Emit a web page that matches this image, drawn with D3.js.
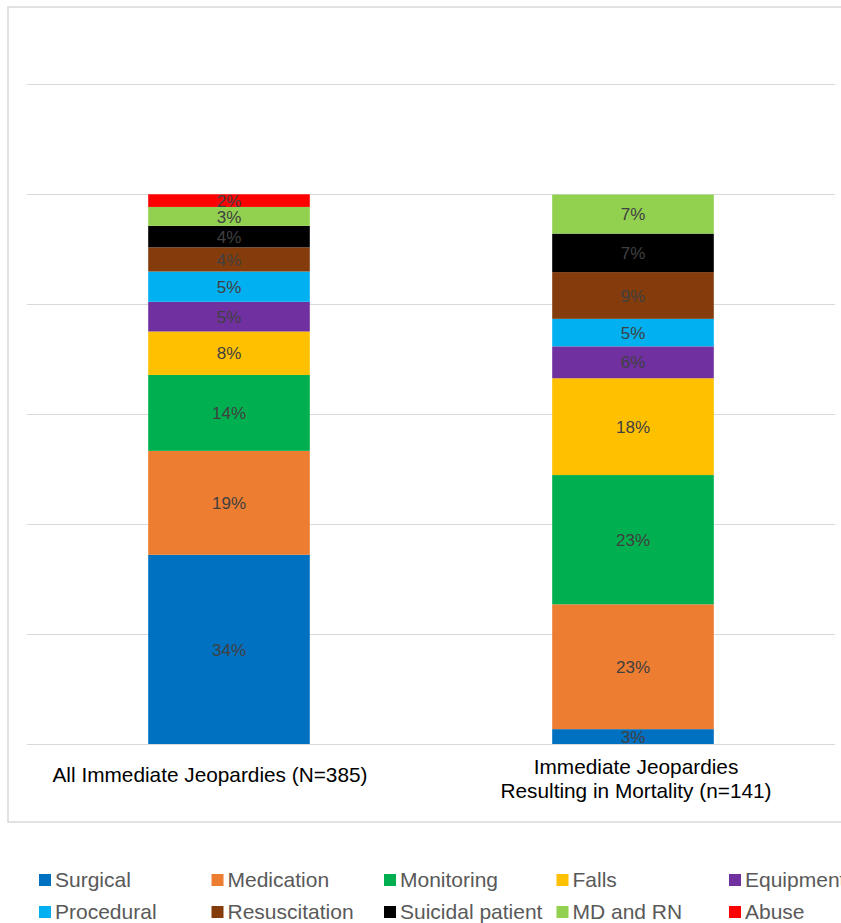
<!DOCTYPE html>
<html>
<head>
<meta charset="utf-8">
<script src="https://cdn.jsdelivr.net/npm/d3@7"></script>
<style>
  body { margin: 0; background: #fff; }
  svg { display: block; font-family: "Liberation Sans", Arial, sans-serif; }
  .grid-line .domain { display: none; }
  .grid-line .tick line { stroke: #d9d9d9; stroke-width: 1.2; }
  .grid-line .tick text { display: none; }
</style>
</head>
<body>
<svg id="chart" width="841" height="923"></svg>
<script>
// categories (x axis), each one split into its printed lines
const categories = ['all', 'mortality'];
const categoryLines = [
    ['All Immediate Jeopardies (N=385)'],
    ['Immediate Jeopardies', 'Resulting in Mortality (n=141)']
];

// series, bottom to top
const seriesNames = ['Surgical', 'Medication', 'Monitoring', 'Falls', 'Equipment',
    'Procedural', 'Resuscitation', 'Suicidal patient', 'MD and RN', 'Abuse'];
const seriesColors = ['#0070C0', '#ED7D31', '#00B050', '#FFC000', '#7030A0',
    '#00B0F0', '#843C0C', '#000000', '#92D050', '#FF0000'];

// percent share per series
const allValues = [34.4, 18.9, 13.8, 7.9, 5.4, 5.5, 4.4, 3.9, 3.45, 2.3];
const mortalityValues = [2.7, 22.7, 23.5, 17.6, 5.8, 5.0, 8.5, 7.0, 7.1, 0];

// printed data labels
const allLabels = ['34%', '19%', '14%', '8%', '5%', '5%', '4%', '4%', '3%', '2%'];
const mortalityLabels = ['3%', '23%', '23%', '18%', '6%', '5%', '9%', '7%', '7%', ''];

// y ticks (gridlines)
const yTicks = [0, 20, 40, 60, 80, 100, 120];

const svg = d3.select('#chart');

// outer chart border
svg.append('rect')
    .attr('x', 8).attr('y', 7)
    .attr('width', 845).attr('height', 815)
    .attr('fill', 'none')
    .attr('stroke', '#d9d9d9')
    .attr('stroke-width', 1.5);

const margin = { top: 84, right: 6, bottom: 179, left: 27 };
const width = +svg.attr('width') - margin.left - margin.right;
const height = +svg.attr('height') - margin.top - margin.bottom;
const g = svg.append('g').attr('transform', `translate(${margin.left},${margin.top})`);

const x = d3.scaleBand().range([0, width]).domain(categories).padding(0);
const y = d3.scaleLinear().range([height, 0]).domain([0, 120]);
const barWidth = x.bandwidth() * 0.4;

// gridlines
g.append('g')
    .attr('class', 'grid-line')
    .call(d3.axisLeft(y).tickValues(yTicks).tickSize(-width));

// build stacked table
const table = categories.map((c, i) => {
    const row = { cat: c };
    const vals = i === 0 ? allValues : mortalityValues;
    seriesNames.forEach((s, j) => { row[s] = vals[j]; });
    return row;
});
const labelsFor = { all: allLabels, mortality: mortalityLabels };
const stack = d3.stack().keys(seriesNames)(table);
const color = d3.scaleOrdinal().domain(seriesNames).range(seriesColors);

const layers = g.selectAll('.layer')
    .data(stack)
    .enter().append('g')
    .attr('class', 'layer')
    .attr('fill', d => color(d.key));

layers.selectAll('rect')
    .data(d => d.map(p => Object.assign(p, { key: d.key, idx: d.index })))
    .enter().append('rect')
    .filter(d => d[1] - d[0] > 0)
    .attr('x', d => x(d.data.cat) + (x.bandwidth() - barWidth) / 2)
    .attr('y', d => y(d[1]))
    .attr('width', barWidth)
    .attr('height', d => y(d[0]) - y(d[1]));

// data labels
layers.selectAll('text')
    .data(d => d)
    .enter().append('text')
    .filter(d => d[1] - d[0] > 0)
    .attr('x', d => x(d.data.cat) + x.bandwidth() / 2)
    .attr('y', d => (y(d[0]) + y(d[1])) / 2)
    .attr('dy', '0.36em')
    .attr('text-anchor', 'middle')
    .attr('fill', '#404040')
    .attr('font-size', 17)
    .text(d => labelsFor[d.data.cat][d.idx]);

// category labels (the one-line label sits a bit left of its bar, as in the original)
const xAxis = g.append('g')
    .attr('transform', `translate(0,${height})`)
    .call(d3.axisBottom(x).tickSize(0).tickFormat(''));
xAxis.select('.domain').remove();
xAxis.selectAll('.tick').each(function (d, i) {
    const lines = categoryLines[i];
    const t = d3.select(this).append('text')
        .attr('fill', '#000')
        .attr('font-size', 20.8)
        .attr('text-anchor', 'middle');
    lines.forEach((ln, k) => {
        t.append('tspan')
            .attr('x', lines.length === 1 ? -19 : 3)
            .attr('y', lines.length === 1 ? 38 : 30 + k * 24)
            .text(ln);
    });
});

// legend, below the chart box
const legend = svg.append('g').attr('transform', 'translate(39,866)');
const colW = 172.5, rowH = 32, perRow = 5;
const item = legend.selectAll('.item')
    .data(seriesNames)
    .enter().append('g')
    .attr('class', 'item')
    .attr('transform', (d, i) => `translate(${(i % perRow) * colW},${Math.floor(i / perRow) * rowH})`);
item.append('rect')
    .attr('y', 8).attr('width', 12).attr('height', 12)
    .attr('fill', d => color(d));
item.append('text')
    .attr('x', 16).attr('y', 20.5)
    .attr('font-size', 21)
    .attr('fill', '#595959')
    .text(d => d);
</script>
</body>
</html>
